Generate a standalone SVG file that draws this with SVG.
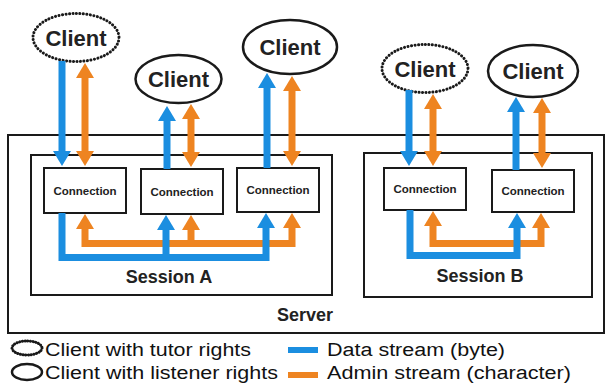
<svg xmlns="http://www.w3.org/2000/svg" width="609" height="383" viewBox="0 0 609 383">
<style>
.box{fill:#fff;stroke:#1a1a1a;stroke-width:2}
.frame{fill:none;stroke:#1a1a1a;stroke-width:2}
.cl{fill:#fff;stroke:#1a1a1a;stroke-width:2.5}
.tut{fill:#fff;stroke:#1a1a1a;stroke-width:3;stroke-dasharray:0.1 3.4;stroke-linecap:round}
.ct{font-family:"Liberation Sans",Arial,sans-serif;font-weight:bold;font-size:22px;fill:#222;text-anchor:middle}
.cn{font-family:"Liberation Sans",Arial,sans-serif;font-weight:bold;font-size:11.5px;fill:#222;text-anchor:middle}
.sl{font-family:"Liberation Sans",Arial,sans-serif;font-weight:bold;font-size:18px;fill:#222;text-anchor:middle}
.lg{font-family:"Liberation Sans",Arial,sans-serif;font-size:18px;fill:#111}
.b{fill:none;stroke:#1b8ee0;stroke-width:7;stroke-linejoin:miter}
.o{fill:none;stroke:#ee8421;stroke-width:7;stroke-linejoin:miter}
</style>
<defs>
<marker id="hb" viewBox="0 0 15 18" refX="0" refY="9" markerWidth="15" markerHeight="18" markerUnits="userSpaceOnUse" orient="auto-start-reverse"><path d="M0,0 L15,9 L0,18 Z" fill="#1b8ee0"/></marker>
<marker id="ho" viewBox="0 0 15 18" refX="0" refY="9" markerWidth="15" markerHeight="18" markerUnits="userSpaceOnUse" orient="auto-start-reverse"><path d="M0,0 L15,9 L0,18 Z" fill="#ee8421"/></marker>
</defs>
<rect width="609" height="383" fill="#fff"/>
<g id="server">
<rect class="frame" x="8" y="135" width="596" height="198"/>
<text class="sl" x="305" y="321" font-size="17">Server</text>
</g>
<g id="sessionA">
<rect class="frame" x="31" y="155" width="301" height="140"/>
<text class="sl" x="169" y="283">Session A</text>
</g>
<g id="sessionB">
<rect class="frame" x="364" y="153" width="228" height="144"/>
<text class="sl" x="480" y="282">Session B</text>
</g>
<g id="client1"><ellipse class="tut" cx="76" cy="37.5" rx="43" ry="24"/><text class="ct" x="76" y="46">Client</text></g>
<g id="client2"><ellipse class="cl" cx="178.5" cy="79" rx="43" ry="24"/><text class="ct" x="178.5" y="87">Client</text></g>
<g id="client3"><ellipse class="cl" cx="290" cy="47" rx="47" ry="27"/><text class="ct" x="290" y="55">Client</text></g>
<g id="client4"><ellipse class="tut" cx="425" cy="68.5" rx="43" ry="24"/><text class="ct" x="425" y="76.5">Client</text></g>
<g id="client5"><ellipse class="cl" cx="533" cy="71" rx="45" ry="26"/><text class="ct" x="533" y="79">Client</text></g>
<g id="conn1"><rect class="box" x="44" y="168" width="82" height="45"/><text class="cn" x="85" y="194.5">Connection</text></g>
<g id="conn2"><rect class="box" x="141" y="169" width="82" height="45"/><text class="cn" x="182" y="195.5">Connection</text></g>
<g id="conn3"><rect class="box" x="237" y="168" width="82" height="44"/><text class="cn" x="278" y="194">Connection</text></g>
<g id="conn4"><rect class="box" x="384" y="168" width="82" height="42"/><text class="cn" x="425" y="193">Connection</text></g>
<g id="conn5"><rect class="box" x="492" y="170" width="82" height="42"/><text class="cn" x="533" y="195">Connection</text></g>
<g id="connectors">
<line class="b" x1="62" y1="61" x2="62" y2="151" marker-end="url(#hb)"/>
<line class="o" x1="85" y1="78" x2="85" y2="151" marker-start="url(#ho)" marker-end="url(#ho)"/>
<line class="b" x1="167" y1="169" x2="167" y2="121" marker-end="url(#hb)"/>
<line class="o" x1="191" y1="119" x2="191" y2="152" marker-start="url(#ho)" marker-end="url(#ho)"/>
<line class="b" x1="267" y1="168" x2="267" y2="88" marker-end="url(#hb)"/>
<line class="o" x1="292" y1="91" x2="292" y2="151" marker-start="url(#ho)" marker-end="url(#ho)"/>
<line class="b" x1="409" y1="90" x2="409" y2="151" marker-end="url(#hb)"/>
<line class="o" x1="433" y1="109" x2="433" y2="151" marker-start="url(#ho)" marker-end="url(#ho)"/>
<line class="b" x1="516" y1="170" x2="516" y2="112" marker-end="url(#hb)"/>
<line class="o" x1="542" y1="113" x2="542" y2="153" marker-start="url(#ho)" marker-end="url(#ho)"/>
<path class="o" d="M85,229 V243.5 H292 V228" marker-start="url(#ho)" marker-end="url(#ho)"/>
<line class="o" x1="191" y1="243.5" x2="191" y2="230" marker-end="url(#ho)"/>
<path class="b" d="M62,213 V257.5 H266 V228" marker-end="url(#hb)"/>
<line class="b" x1="166" y1="257.5" x2="166" y2="230" marker-end="url(#hb)"/>
<path class="o" d="M433,226 V243.5 H541 V228" marker-start="url(#ho)" marker-end="url(#ho)"/>
<path class="b" d="M410,210 V255.5 H517 V228" marker-end="url(#hb)"/>
</g>
<g id="legend">
<ellipse class="tut" cx="27" cy="348" rx="15" ry="7" stroke-width="2" style="stroke-dasharray:0.1 2.6"/>
<text class="lg" x="45" y="356" textLength="206" lengthAdjust="spacingAndGlyphs">Client with tutor rights</text>
<ellipse class="cl" cx="27" cy="372" rx="15" ry="8" stroke-width="2"/>
<text class="lg" x="45" y="379" textLength="233" lengthAdjust="spacingAndGlyphs">Client with listener rights</text>
<rect x="288" y="347" width="30" height="6" fill="#1b8ee0"/>
<text class="lg" x="327" y="356" textLength="178" lengthAdjust="spacingAndGlyphs">Data stream (byte)</text>
<rect x="288" y="372" width="30" height="6" fill="#ee8421"/>
<text class="lg" x="327" y="379" textLength="244" lengthAdjust="spacingAndGlyphs">Admin stream (character)</text>
</g>
</svg>
